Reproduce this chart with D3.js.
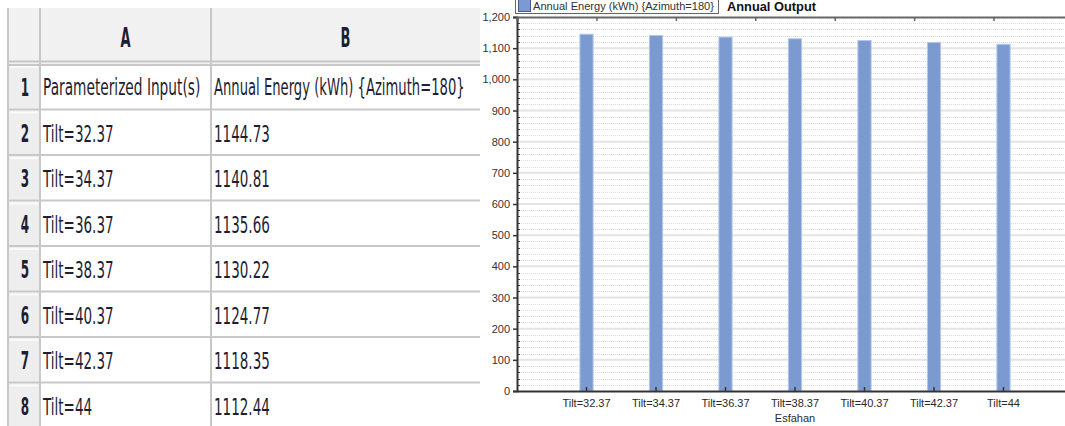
<!DOCTYPE html>
<html>
<head>
<meta charset="utf-8">
<script src="https://cdn.jsdelivr.net/npm/d3@7"></script>
<style>
  html, body { margin: 0; padding: 0; background: #ffffff; }
  svg { display: block; }
</style>
</head>
<body>
<svg id="chart" width="1065" height="426"></svg>
<script>
// ---------------- data ----------------
const columnLetters = ["A", "B"];
const rowNumbers = [1, 2, 3, 4, 5, 6, 7, 8];
const headerCells = ["Parameterized Input(s)", "Annual Energy (kWh) {Azimuth=180}"];
const tiltLabels = ["Tilt=32.37", "Tilt=34.37", "Tilt=36.37", "Tilt=38.37", "Tilt=40.37", "Tilt=42.37", "Tilt=44"];
const energyValues = [1144.73, 1140.81, 1135.66, 1130.22, 1124.77, 1118.35, 1112.44];
const yTickValues = [0, 100, 200, 300, 400, 500, 600, 700, 800, 900, 1000, 1100, 1200];
const seriesName = "Annual Energy (kWh) {Azimuth=180}";
const chartTitle = "Annual Output";
const xAxisTitle = "Esfahan";

const svg = d3.select("#chart");
const textColor = "#1e1e32";
const gridColor = "#c8c8c8";
const axisFont = "Liberation Sans, Arial, sans-serif";

// ---------------- spreadsheet (left) ----------------
const tbl = svg.append("g");
const colX = [8, 40, 211, 480];        // left border, row-num col end, col A end, col B end
const headerTop = 8, headerBottom = 64;
const rowScale = d3.scaleBand().domain(rowNumbers).range([headerBottom, headerBottom + 8 * 45.5]);

// header background
tbl.append("rect").attr("x", colX[0]).attr("y", headerTop)
  .attr("width", colX[3] - colX[0]).attr("height", headerBottom - headerTop)
  .attr("fill", "#f1f1f1");
// row number column background
rowNumbers.forEach(r => {
  tbl.append("rect").attr("x", colX[0] + 1).attr("y", rowScale(r) + 1)
    .attr("width", colX[1] - colX[0] - 2).attr("height", rowScale.bandwidth() - 2)
    .attr("fill", "#eeeeee");
  tbl.append("line").attr("x1", colX[0] + 2).attr("x2", colX[1] - 2)
    .attr("y1", rowScale(r) + 3).attr("y2", rowScale(r) + 3)
    .attr("stroke", "#fafafa").attr("stroke-width", 2);
});

// horizontal grid lines
rowNumbers.forEach(r => {
  if (r === 1) return;
  tbl.append("line").attr("x1", colX[0]).attr("x2", colX[3])
    .attr("y1", rowScale(r)).attr("y2", rowScale(r))
    .attr("stroke", gridColor).attr("stroke-width", 2);
});
// header double line
[61.5, 65].forEach(yy => {
  tbl.append("line").attr("x1", colX[0]).attr("x2", colX[3])
    .attr("y1", yy).attr("y2", yy).attr("stroke", gridColor).attr("stroke-width", 2);
});
// vertical lines
colX.slice(0, 3).forEach(xx => {
  tbl.append("line").attr("x1", xx).attr("x2", xx)
    .attr("y1", headerTop).attr("y2", 426)
    .attr("stroke", gridColor).attr("stroke-width", 2);
});

const regScale = 0.6, boldScale = 0.5;
function condensedText(g, str, x, y, anchor, size, weight, sx) {
  return g.append("text")
    .attr("transform", `translate(${x},${y}) scale(${sx},1)`)
    .attr("text-anchor", anchor)
    .attr("font-family", "DejaVu Sans, sans-serif")
    .attr("font-size", size).attr("font-weight", weight)
    .attr("fill", textColor).text(str);
}
// column letters
columnLetters.forEach((c, i) => {
  condensedText(tbl, c, (colX[i + 1] + colX[i + 2]) / 2, 47, "middle", 26, "bold", boldScale);
});
// row numbers
rowNumbers.forEach(r => {
  condensedText(tbl, String(r), (colX[0] + colX[1]) / 2 + 1, rowScale(r) + 32, "middle", 24, "bold", boldScale);
});
// header cells (row 1)
condensedText(tbl, headerCells[0], colX[1] + 3, rowScale(1) + 31, "start", 22.5, "normal", 0.61);
condensedText(tbl, headerCells[1], colX[2] + 3, rowScale(1) + 31, "start", 22.5, "normal", 0.585);
// data rows
tiltLabels.forEach((lab, i) => {
  const r = rowNumbers[i + 1];
  condensedText(tbl, lab, colX[1] + 3, rowScale(r) + 32, "start", 22.5, "normal", regScale);
  condensedText(tbl, String(energyValues[i]), colX[2] + 3, rowScale(r) + 32, "start", 22.5, "normal", regScale);
});

// ---------------- bar chart (right) ----------------
const plot = { left: 517, right: 1073, top: 17, bottom: 391 };
const y = d3.scaleLinear().domain([0, 1200]).range([plot.bottom, plot.top]);
const x = d3.scaleBand().domain(tiltLabels).range([plot.left, plot.right])
  .paddingInner(0.81).paddingOuter(0.905);
const topScale = d3.scaleLinear().domain([0, tiltLabels.length]).range([plot.left, plot.right]);

const ch = svg.append("g");
// minor gridlines (every 20)
const minorVals = d3.range(20, 1200, 20).filter(v => v % 100 !== 0);
ch.append("g").selectAll("line").data(minorVals).join("line")
  .attr("x1", plot.left).attr("x2", plot.right)
  .attr("y1", d => Math.round(y(d)) + 0.5).attr("y2", d => Math.round(y(d)) + 0.5)
  .attr("stroke", "#dcdcdc").attr("stroke-width", 1).attr("stroke-dasharray", "1,1");
// major gridlines
ch.append("g").selectAll("line").data(yTickValues.filter(v => v > 0 && v < 1200)).join("line")
  .attr("x1", plot.left).attr("x2", plot.right)
  .attr("y1", d => y(d)).attr("y2", d => y(d))
  .attr("stroke", "#e4e4e4").attr("stroke-width", 2);

// bars
ch.append("g").selectAll("rect").data(energyValues).join("rect")
  .attr("x", (d, i) => x(tiltLabels[i]))
  .attr("y", d => y(d))
  .attr("width", x.bandwidth())
  .attr("height", d => y(0) - y(d))
  .attr("fill", "#7a9ad0")
  .attr("stroke", "#b4c7ea").attr("stroke-width", 1);

// minor ticks on y axis
ch.append("g").selectAll("line").data(minorVals).join("line")
  .attr("x1", plot.left).attr("x2", plot.left + 3)
  .attr("y1", d => Math.round(y(d)) + 0.5).attr("y2", d => Math.round(y(d)) + 0.5)
  .attr("stroke", "#444").attr("stroke-width", 1);

// y axis
const yAxis = ch.append("g").attr("transform", `translate(${plot.left},0)`)
  .call(d3.axisLeft(y).tickValues(yTickValues).tickSize(4).tickPadding(3).tickFormat(d3.format(",")));
yAxis.select(".domain").attr("stroke", "#333").attr("stroke-width", 2);
yAxis.selectAll(".tick line").attr("stroke", "#333").attr("stroke-width", 1.5);
yAxis.selectAll("text").attr("font-family", axisFont).attr("font-size", 11).attr("fill", "#3a3030");

// top axis (ticks at band boundaries, no labels)
const topAxis = ch.append("g").attr("transform", `translate(0,${plot.top})`)
  .call(d3.axisTop(topScale).ticks(tiltLabels.length).tickSize(-4).tickFormat(""));
topAxis.select(".domain").attr("stroke", "#666").attr("stroke-width", 2);
topAxis.selectAll(".tick line").attr("stroke", "#666").attr("stroke-width", 1.5);

// bottom axis
const xAxis = ch.append("g").attr("transform", `translate(0,${plot.bottom})`)
  .call(d3.axisBottom(x).tickSize(-4).tickPadding(8).tickSizeOuter(0));
xAxis.select(".domain").attr("stroke", "#333").attr("stroke-width", 2);
xAxis.selectAll(".tick line").attr("stroke", "#333").attr("stroke-width", 1.5);
xAxis.selectAll("text").attr("font-family", axisFont).attr("font-size", 11).attr("fill", "#2a2a2a");

// x axis title
ch.append("text").attr("x", (plot.left + plot.right) / 2).attr("y", 422)
  .attr("text-anchor", "middle").attr("font-family", axisFont)
  .attr("font-size", 11).attr("fill", "#2a2a2a").text(xAxisTitle);

// legend
const lg = ch.append("g");
lg.append("rect").attr("x", 515.5).attr("y", -4).attr("width", 203).attr("height", 17.5)
  .attr("fill", "#ffffff").attr("stroke", "#666").attr("stroke-width", 1);
lg.append("rect").attr("x", 518.5).attr("y", -2).attr("width", 12).attr("height", 13.5)
  .attr("fill", "#7a9ad0").attr("stroke", "#4a5a8a").attr("stroke-width", 1);
lg.append("text").attr("x", 533).attr("y", 9.5)
  .attr("font-family", axisFont).attr("font-size", 11)
  .attr("textLength", 181).attr("lengthAdjust", "spacingAndGlyphs")
  .attr("fill", "#333").text(seriesName);
// title
ch.append("text").attr("x", 727).attr("y", 10.5)
  .attr("font-family", axisFont).attr("font-size", 13).attr("font-weight", "bold")
  .attr("textLength", 89).attr("lengthAdjust", "spacingAndGlyphs")
  .attr("fill", "#111").text(chartTitle);
</script>
</body>
</html>
